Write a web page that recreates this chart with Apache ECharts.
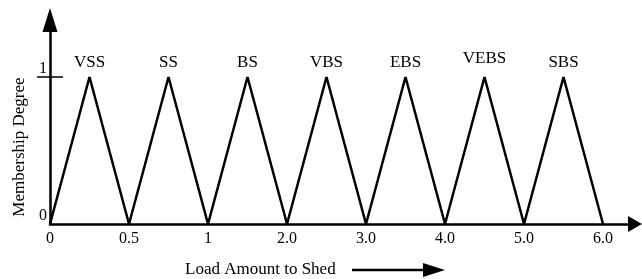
<!DOCTYPE html>
<html>
<head>
<meta charset="utf-8">
<script src="https://cdn.jsdelivr.net/npm/echarts@6/dist/echarts.min.js"></script>
<style>
  html, body { margin: 0; padding: 0; background: #fff; }
  #chart { width: 642px; height: 279px; }
</style>
</head>
<body>
<div id="chart"></div>
<script>
// tick labels along the load axis (evenly spaced)
const xTickLabels = ['0', '0.5', '1', '2.0', '3.0', '4.0', '5.0', '6.0']
// fuzzy sets, one triangle between each pair of ticks
const terms = ['VSS', 'SS', 'BS', 'VBS', 'EBS', 'VEBS', 'SBS']
const termStart = [0, 1, 2, 3, 4, 5, 6]       // tick index where each set starts
const termPeak = [0.5, 1.5, 2.5, 3.5, 4.5, 5.5, 6.5]
const termEnd = [1, 2, 3, 4, 5, 6, 7]
const peakDegree = [1, 1, 1, 1, 1, 1, 1]
const yTickValues = [0, 1]

const font = '"Liberation Serif", "DejaVu Serif", serif'

const chart = echarts.init(document.getElementById('chart'))

const series = terms.map((name, i) => ({
  name,
  type: 'line',
  symbol: 'circle',
  symbolSize: 0,
  animation: false,
  itemStyle: { color: '#000' },
  lineStyle: { color: '#000', width: 2.5 },
  data: [
    [termStart[i], 0],
    {
      value: [termPeak[i], peakDegree[i]],
      label: {
        show: true,
        position: 'top',
        distance: name === 'VEBS' ? 10 : 6,
        formatter: name,
        color: '#000',
        fontFamily: font,
        fontSize: 17
      }
    },
    [termEnd[i], 0]
  ]
}))

chart.setOption({
  animation: false,
  grid: { left: 50, right: 7, top: 20, bottom: 55 },
  xAxis: {
    type: 'value',
    min: 0,
    max: 7.405,
    splitLine: { show: false },
    axisTick: { show: false },
    axisLine: {
      onZero: false,
      lineStyle: { color: '#000', width: 2.5 },
      symbol: ['none', 'triangle'],
      symbolSize: [16, 14]
    },
    axisLabel: {
      customValues: xTickLabels.map((_, i) => i),
      formatter: v => xTickLabels[Math.round(v)],
      color: '#000',
      fontFamily: font,
      fontSize: 16,
      margin: 7
    }
  },
  yAxis: [
    {
      type: 'value',
      min: 0,
      max: 1.388,
      splitLine: { show: false },
      axisLine: {
        lineStyle: { color: '#000', width: 2.5 },
        symbol: ['none', 'triangle'],
        symbolSize: [15, 24]
      },
      axisTick: {
        customValues: [1],
        length: 13,
        lineStyle: { color: '#000', width: 1.5 }
      },
      axisLabel: {
        customValues: yTickValues,
        color: '#000',
        fontFamily: font,
        fontSize: 16,
        margin: 3,
        verticalAlign: 'bottom'
      }
    },
    {
      type: 'value',
      position: 'left',
      min: 0,
      max: 1.388,
      splitLine: { show: false },
      axisLine: { show: false },
      axisLabel: { show: false },
      axisTick: {
        inside: true,
        customValues: [1],
        length: 13,
        lineStyle: { color: '#000', width: 1.5 }
      }
    }
  ],
  graphic: [
    {
      type: 'text',
      left: 185,
      top: 261,
      style: { text: 'Load Amount to Shed', font: '17px ' + font, fill: '#000' }
    },
    {
      type: 'line',
      shape: { x1: 352, y1: 270, x2: 428, y2: 270 },
      style: { stroke: '#000', lineWidth: 2.5 }
    },
    {
      type: 'polygon',
      shape: { points: [[423, 263], [445, 270], [423, 277]] },
      style: { fill: '#000' }
    },
    {
      type: 'text',
      x: 20,
      y: 147,
      rotation: Math.PI / 2,
      style: {
        text: 'Membership Degree',
        font: '17px ' + font,
        fill: '#000',
        align: 'center',
        verticalAlign: 'middle'
      }
    }
  ],
  series
})
</script>
</body>
</html>
